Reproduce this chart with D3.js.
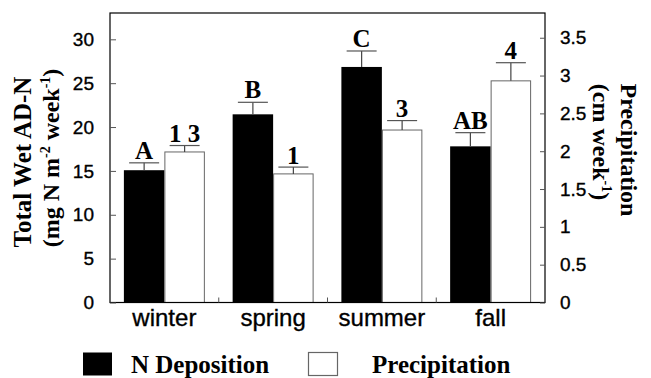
<!DOCTYPE html>
<html>
<head>
<meta charset="utf-8">
<script src="https://cdn.jsdelivr.net/npm/d3@7"></script>
<style>
  html, body { margin: 0; padding: 0; background: #fff; }
  svg { display: block; }
</style>
</head>
<body>
<script>
// ---- data ----
const categories = ["winter", "spring", "summer", "fall"];
const nDeposition = [15.08, 21.45, 26.85, 17.8];
const nDepositionErr = [0.84, 1.37, 1.82, 1.56];
const precipitation = [1.99, 1.70, 2.28, 2.93];
const precipitationErr = [0.085, 0.09, 0.125, 0.24];
const nLabels = ["A", "B", "C", "AB"];
const pLabels = ["1 3", "1", "3", "4"];
const leftTicks = [0, 5, 10, 15, 20, 25, 30];
const rightTicks = [0, 0.5, 1, 1.5, 2, 2.5, 3, 3.5];
const series = ["N Deposition", "Precipitation"];

const W = 651, H = 378;
const frame = { left: 110, right: 545, top: 13, bottom: 302.5 };

const svg = d3.select("body").append("svg").attr("width", W).attr("height", H);

const x = d3.scaleBand().domain(categories).range([frame.left, frame.right]).padding(0);
const xi = d3.scaleBand().domain(series).range([0, x.bandwidth()]).paddingInner(0).paddingOuter(0.343);
const yL = d3.scaleLinear().domain([0, 33]).range([frame.bottom, frame.top]);
const yR = d3.scaleLinear().domain([0, 3.827]).range([frame.bottom, frame.top]);

const serif = "'Liberation Serif', 'Times New Roman', serif";
const sans = "'Liberation Sans', Arial, Helvetica, sans-serif";
const SERIF_SIZE = 25;

// bars
const g = svg.append("g");
categories.forEach((c, i) => {
  const bx = x(c) + xi("N Deposition");
  g.append("rect")
    .attr("x", bx).attr("width", xi.bandwidth())
    .attr("y", yL(nDeposition[i])).attr("height", yL(0) - yL(nDeposition[i]))
    .attr("fill", "#000");
  const px = x(c) + xi("Precipitation");
  g.append("rect")
    .attr("x", px + 0.5).attr("width", xi.bandwidth() - 1)
    .attr("y", yR(precipitation[i])).attr("height", yR(0) - yR(precipitation[i]))
    .attr("fill", "#fff").attr("stroke", "#666").attr("stroke-width", 1);
});

// error bars and labels
function errBar(cx, yTop, yBase) {
  g.append("line").attr("x1", cx).attr("x2", cx).attr("y1", yBase).attr("y2", yTop)
    .attr("stroke", "#444").attr("stroke-width", 1.2);
  g.append("line").attr("x1", cx - 15).attr("x2", cx + 15).attr("y1", yTop).attr("y2", yTop)
    .attr("stroke", "#555").attr("stroke-width", 1.2);
}
categories.forEach((c, i) => {
  const ncx = x(c) + xi("N Deposition") + xi.bandwidth() / 2;
  const nTop = yL(nDeposition[i] + nDepositionErr[i]);
  errBar(ncx, nTop, yL(nDeposition[i]));
  svg.append("text").attr("x", ncx).attr("y", nTop - 4)
    .attr("text-anchor", "middle").attr("font-family", serif).attr("font-weight", "bold")
    .attr("font-size", SERIF_SIZE).text(nLabels[i]);
  const pcx = x(c) + xi("Precipitation") + xi.bandwidth() / 2;
  const pTop = yR(precipitation[i] + precipitationErr[i]);
  errBar(pcx, pTop, yR(precipitation[i]));
  svg.append("text").attr("x", pcx).attr("y", pTop - 3.5)
    .attr("text-anchor", "middle").attr("font-family", serif).attr("font-weight", "bold")
    .attr("font-size", SERIF_SIZE).attr("xml:space", "preserve").text(pLabels[i]);
});

// frame
svg.append("rect")
  .attr("x", frame.left).attr("y", frame.top)
  .attr("width", frame.right - frame.left).attr("height", frame.bottom - frame.top)
  .attr("fill", "none").attr("stroke", "#000").attr("stroke-width", 1.2);

// left axis
const axL = svg.append("g").attr("transform", `translate(${frame.left},0)`)
  .call(d3.axisLeft(yL).tickValues(leftTicks).tickSize(-6).tickPadding(16).tickFormat(d3.format("d")));
axL.select(".domain").remove();
axL.selectAll(".tick line").attr("stroke", "#555");
axL.selectAll(".tick text").attr("font-family", sans).attr("font-size", 19).attr("fill", "#000")
  .attr("stroke", "#000").attr("stroke-width", 0.35);

// right axis
const axR = svg.append("g").attr("transform", `translate(${frame.right},0)`)
  .call(d3.axisRight(yR).tickValues(rightTicks).tickSize(-5).tickPadding(15).tickFormat(d => String(d)));
axR.select(".domain").remove();
axR.selectAll(".tick line").attr("stroke", "#555");
axR.selectAll(".tick text").attr("font-family", sans).attr("font-size", 19).attr("fill", "#000")
  .attr("stroke", "#000").attr("stroke-width", 0.35);

// bottom axis: boundary ticks + labels
const bounds = categories.slice(1).map(c => x(c));
svg.selectAll(".btick").data(bounds).enter().append("line")
  .attr("x1", d => d).attr("x2", d => d)
  .attr("y1", frame.bottom).attr("y2", frame.bottom - 5)
  .attr("stroke", "#555").attr("stroke-width", 1);
svg.selectAll(".clabel").data(categories).enter().append("text")
  .attr("x", d => x(d) + x.bandwidth() / 2).attr("y", 326)
  .attr("text-anchor", "middle").attr("font-family", sans).attr("font-size", 24)
  .attr("stroke", "#000").attr("stroke-width", 0.35)
  .text(d => d);

// left title
svg.append("text").attr("transform", "translate(31,162) rotate(-90)")
  .attr("text-anchor", "middle").attr("font-family", serif).attr("font-weight", "bold")
  .attr("font-size", SERIF_SIZE).text("Total Wet AD-N");
const lt2 = svg.append("text").attr("transform", "translate(59,158) rotate(-90)")
  .attr("text-anchor", "middle").attr("font-family", serif).attr("font-weight", "bold")
  .attr("font-size", 24);
lt2.append("tspan").text("(mg N m");
lt2.append("tspan").attr("font-size", 14).attr("dy", -9).text("-2");
lt2.append("tspan").attr("dy", 9).text(" week");
lt2.append("tspan").attr("font-size", 14).attr("dy", -9).text("-1");
lt2.append("tspan").attr("dy", 9).text(")");

// right title
svg.append("text").attr("transform", "translate(621,150) rotate(90)")
  .attr("text-anchor", "middle").attr("font-family", serif).attr("font-weight", "bold")
  .attr("font-size", 24).text("Precipitation");
const rt2 = svg.append("text").attr("transform", "translate(593,142) rotate(90)")
  .attr("text-anchor", "middle").attr("font-family", serif).attr("font-weight", "bold")
  .attr("font-size", 24);
rt2.append("tspan").text("(cm week");
rt2.append("tspan").attr("font-size", 14).attr("dy", -9).text("-1");
rt2.append("tspan").attr("dy", 9).text(")");

// legend
const legend = [
  { name: series[0], fill: "#000", stroke: "none", rx: 83, tx: 131 },
  { name: series[1], fill: "#fff", stroke: "#666", rx: 308.5, tx: 372 }
];
legend.forEach(l => {
  svg.append("rect").attr("x", l.rx).attr("y", 352.5).attr("width", 29).attr("height", 23)
    .attr("fill", l.fill).attr("stroke", l.stroke).attr("stroke-width", 1.2);
  svg.append("text").attr("x", l.tx).attr("y", 373)
    .attr("font-family", serif).attr("font-weight", "bold").attr("font-size", SERIF_SIZE).text(l.name);
});
</script>
</body>
</html>
